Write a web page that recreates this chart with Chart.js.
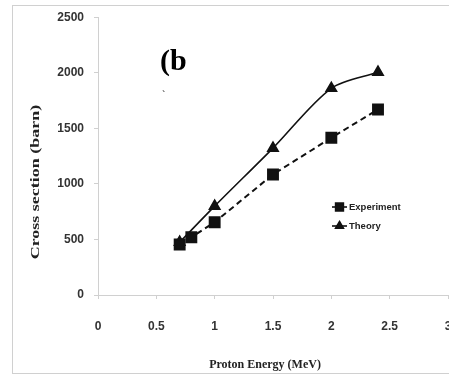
<!DOCTYPE html>
<html>
<head>
<meta charset="utf-8">
<script src="https://cdn.jsdelivr.net/npm/chart.js@4.4.1/dist/chart.umd.min.js"></script>
<style>
  html, body { margin: 0; padding: 0; background: #fff; overflow: hidden; }
</style>
</head>
<body>
<canvas id="chart_dest" width="449" height="378"></canvas>
<script>
// dataset
var expEnergy = [0.7, 0.8, 1, 1.5, 2, 2.4];
var expCross = [455, 520, 655, 1085, 1415, 1670];
var theoryEnergy = [0.7, 1, 1.5, 2, 2.4];
var theoryCross = [475, 800, 1322, 1860, 2005];
var xTicks = [0, 0.5, 1, 1.5, 2, 2.5, 3];
var yTicks = [0, 500, 1000, 1500, 2000, 2500];

function pairs(xs, ys) {
  return xs.map(function (x, i) { return { x: x, y: ys[i] }; });
}

var data = {
  datasets: [
    {
      label: "Experiment",
      data: pairs(expEnergy, expCross),
      borderColor: "#111",
      backgroundColor: "#111",
      borderWidth: 2,
      borderDash: [6, 4],
      pointStyle: "rect",
      pointRadius: 7,
      tension: 0
    },
    {
      label: "Theory",
      data: pairs(theoryEnergy, theoryCross),
      borderColor: "#111",
      backgroundColor: "#111",
      borderWidth: 1.6,
      pointStyle: "triangle",
      pointRadius: 6,
      tension: 0.3
    }
  ]
};

// the x axis runs to the right edge, "3" is cut off like in the original
var plotRight = 448;

var decor = {
  id: "decor",
  afterLayout: function (chart) {
    var xs = chart.scales.x;
    xs.right = plotRight;
    xs.width = xs.right - xs.left;
    xs.configure();
    chart.chartArea.right = plotRight;
    chart.chartArea.width = plotRight - chart.chartArea.left;
  },
  beforeDraw: function (chart) {
    var c = chart.ctx;
    c.save();
    c.fillStyle = "#fff";
    c.fillRect(0, 0, chart.width, chart.height);
    c.strokeStyle = "#d0d0d0";
    c.lineWidth = 1;
    c.strokeRect(12.5, 5.5, 470, 368);
    c.restore();
  },
  afterDraw: function (chart) {
    var c = chart.ctx;
    c.save();
    c.fillStyle = "#000";
    c.font = "bold 30px 'Liberation Serif'";
    c.textBaseline = "alphabetic";
    c.fillText("(b", 160, 70);
    c.font = "10px 'Liberation Serif'";
    c.fillText("`", 162, 98);

    // axis titles
    c.fillStyle = "#222";
    c.font = "bold 12px 'Liberation Serif'";
    c.textAlign = "center";
    c.textBaseline = "middle";
    c.fillText("Proton Energy (MeV)", 265, 365);
    c.save();
    c.translate(36, 182);
    c.rotate(-Math.PI / 2);
    c.scale(1.5, 1.05);
    c.fillText("Cross section (barn)", 0, 0);
    c.restore();

    // legend
    var items = [["Experiment", "rect", 207, 5.5], ["Theory", "triangle", 226, 4.5]];
    c.font = "bold 9.5px 'Liberation Sans'";
    c.textAlign = "left";
    items.forEach(function (it) {
      var y = it[2];
      c.strokeStyle = "#111";
      c.lineWidth = 1.6;
      c.beginPath();
      c.moveTo(332, y);
      c.lineTo(347, y);
      c.stroke();
      c.fillStyle = "#111";
      Chart.helpers.drawPoint(c, { pointStyle: it[1], radius: it[3], borderWidth: 1 }, 339.5, y);
      c.fill();
      c.fillStyle = "#222";
      c.fillText(it[0], 349, y);
    });
    c.restore();
  }
};

var tickFont = { family: "'Liberation Sans'", size: 12, weight: "bold" };

var options = {
  responsive: false,
  animation: false,
  layout: { padding: { left: 0, top: 15, right: 1, bottom: 0 } },
  plugins: { legend: { display: false }, tooltip: { enabled: false } },
  scales: {
    x: {
      type: "linear",
      min: 0,
      max: 3,
      afterBuildTicks: function (s) { s.ticks = xTicks.map(function (v) { return { value: v }; }); },
      afterFit: function (s) { s.height = 83; },
      grid: { drawOnChartArea: false, color: "#d0d0d0", tickLength: 4 },
      border: { color: "#d0d0d0" },
      ticks: { font: tickFont, color: "#333", padding: 20, maxRotation: 0, autoSkip: false,
        callback: function (v) { return String(v); } }
    },
    y: {
      min: 0,
      max: 2500,
      afterBuildTicks: function (s) { s.ticks = yTicks.map(function (v) { return { value: v }; }); },
      afterFit: function (s) { s.width = 98; },
      grid: { drawOnChartArea: false, color: "#d0d0d0", tickLength: 4 },
      border: { color: "#d0d0d0" },
      ticks: { font: tickFont, color: "#333", padding: 10,
        callback: function (v) { return String(v); } }
    }
  }
};

var ctx = document.getElementById("chart_dest");
var myChart = new Chart(ctx, {
  type: "line",
  data: data,
  options: options,
  plugins: [decor]
});
</script>
</body>
</html>
